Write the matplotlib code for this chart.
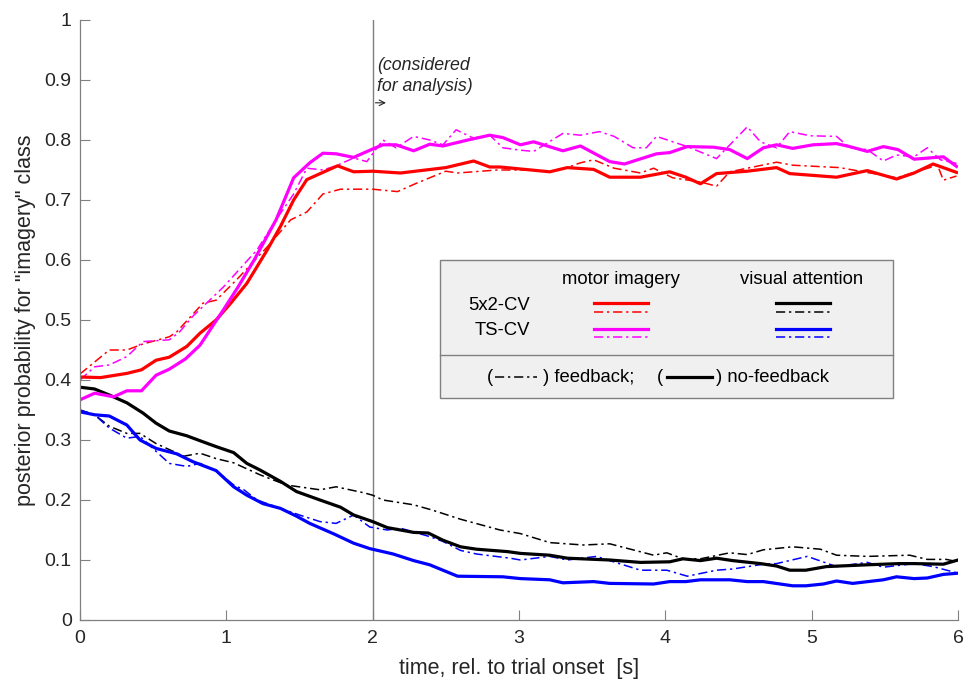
import matplotlib
matplotlib.use("Agg")
import matplotlib.pyplot as plt
from matplotlib.patches import Rectangle

plt.rcParams['font.family'] = ['Liberation Sans', 'DejaVu Sans']

# 5x2-CV, motor imagery, no-feedback (red solid)
red_nf_t = [0, 0.14, 0.32, 0.42, 0.52, 0.61, 0.73, 0.82, 0.93, 1.03, 1.14, 1.28, 1.37, 1.46, 1.55,
            1.76, 1.87, 2.0, 2.19, 2.5, 2.69, 2.8, 2.87, 3.21, 3.33, 3.51, 3.62, 3.83, 4.03, 4.14,
            4.24, 4.35, 4.56, 4.76, 4.85, 5.17, 5.38, 5.58, 5.70, 5.83, 5.99]
red_nf = [0.405, 0.404, 0.411, 0.417, 0.433, 0.438, 0.456, 0.478, 0.5, 0.528, 0.561, 0.617, 0.656,
          0.70, 0.734, 0.757, 0.747, 0.748, 0.745, 0.754, 0.765, 0.755, 0.755, 0.747, 0.754, 0.751,
          0.738, 0.738, 0.747, 0.738, 0.727, 0.744, 0.748, 0.754, 0.744, 0.738, 0.749, 0.735, 0.745,
          0.76, 0.746]

# 5x2-CV, motor imagery, feedback (red dash-dot)
red_fb_t = [0, 0.2, 0.32, 0.43, 0.61, 0.66, 0.84, 0.93, 1.07, 1.28, 1.44, 1.55, 1.66, 1.78, 2.0,
            2.17, 2.30, 2.5, 2.58, 2.85, 3.1, 3.21, 3.33, 3.42, 3.51, 3.65, 3.83, 3.92, 4.05, 4.24,
            4.35, 4.44, 4.76, 4.87, 5.19, 5.47, 5.58, 5.86, 5.9, 5.99]
red_fb = [0.41, 0.45, 0.45, 0.46, 0.472, 0.48, 0.528, 0.533, 0.567, 0.622, 0.667, 0.68, 0.71, 0.718,
          0.718, 0.714, 0.728, 0.748, 0.745, 0.75, 0.75, 0.747, 0.754, 0.762, 0.767, 0.753, 0.745,
          0.753, 0.737, 0.73, 0.723, 0.747, 0.763, 0.758, 0.754, 0.742, 0.737, 0.758, 0.733, 0.74]

# TS-CV, motor imagery, no-feedback (magenta solid)
mag_nf_t = [0, 0.1, 0.23, 0.32, 0.42, 0.52, 0.61, 0.72, 0.82, 0.98, 1.08, 1.19, 1.34, 1.46, 1.57,
            1.66, 1.75, 1.87, 2.0, 2.07, 2.16, 2.28, 2.39, 2.48, 2.65, 2.80, 2.89, 3.01, 3.10, 3.30,
            3.42, 3.62, 3.72, 3.94, 4.03, 4.15, 4.33, 4.44, 4.56, 4.67, 4.76, 4.87, 5.01, 5.17, 5.26,
            5.38, 5.49, 5.59, 5.70, 5.90, 5.99]
mag_nf = [0.367, 0.378, 0.372, 0.382, 0.382, 0.408, 0.418, 0.435, 0.458, 0.517, 0.555, 0.6, 0.667,
          0.737, 0.762, 0.778, 0.777, 0.771, 0.785, 0.792, 0.792, 0.782, 0.793, 0.79, 0.80, 0.808,
          0.804, 0.792, 0.797, 0.782, 0.79, 0.764, 0.76, 0.777, 0.779, 0.789, 0.788, 0.784, 0.769,
          0.787, 0.792, 0.786, 0.792, 0.794, 0.789, 0.781, 0.789, 0.784, 0.768, 0.772, 0.756]

# TS-CV, motor imagery, feedback (magenta dash-dot)
mag_fb_t = [0, 0.1, 0.2, 0.32, 0.43, 0.61, 0.68, 0.77, 0.98, 1.21, 1.34, 1.46, 1.55, 1.66, 1.75,
            1.87, 1.96, 2.07, 2.16, 2.28, 2.39, 2.48, 2.57, 2.69, 2.80, 2.89, 3.01, 3.10, 3.30, 3.42,
            3.55, 3.65, 3.78, 3.87, 3.94, 4.15, 4.35, 4.56, 4.65, 4.76, 4.85, 4.99, 5.17, 5.26, 5.38,
            5.49, 5.58, 5.70, 5.79, 5.88, 5.99]
mag_fb = [0.40, 0.422, 0.425, 0.439, 0.464, 0.467, 0.48, 0.506, 0.555, 0.617, 0.667, 0.71, 0.753,
          0.75, 0.757, 0.77, 0.764, 0.80, 0.787, 0.806, 0.80, 0.792, 0.817, 0.803, 0.808, 0.787,
          0.783, 0.781, 0.811, 0.808, 0.814, 0.806, 0.787, 0.787, 0.806, 0.789, 0.769, 0.822, 0.797,
          0.787, 0.814, 0.807, 0.806, 0.787, 0.784, 0.765, 0.775, 0.772, 0.787, 0.767, 0.761]

# 5x2-CV, visual attention, no-feedback (black solid)
blk_nf_t = [0, 0.1, 0.2, 0.32, 0.43, 0.52, 0.61, 0.73, 0.84, 0.93, 1.05, 1.14, 1.23, 1.37, 1.48,
            1.64, 1.78, 1.87, 2.0, 2.10, 2.28, 2.38, 2.48, 2.60, 2.71, 2.92, 3.01, 3.21, 3.33, 3.62,
            3.83, 4.03, 4.12, 4.24, 4.35, 4.46, 4.65, 4.76, 4.85, 4.96, 5.10, 5.38, 5.60, 5.70, 5.90,
            6.0]
blk_nf = [0.388, 0.385, 0.375, 0.362, 0.345, 0.328, 0.315, 0.307, 0.297, 0.289, 0.279, 0.261, 0.25,
          0.231, 0.214, 0.2, 0.188, 0.175, 0.164, 0.154, 0.146, 0.145, 0.133, 0.122, 0.118, 0.114,
          0.111, 0.108, 0.103, 0.10, 0.096, 0.097, 0.102, 0.099, 0.103, 0.099, 0.094, 0.090, 0.083,
          0.083, 0.089, 0.092, 0.094, 0.094, 0.093, 0.10]

# 5x2-CV, visual attention, feedback (black dash-dot)
blk_fb_t = [0, 0.1, 0.2, 0.32, 0.41, 0.52, 0.71, 0.82, 0.93, 1.05, 1.23, 1.41, 1.64, 1.75, 1.94,
            2.0, 2.07, 2.28, 2.41, 2.60, 2.87, 3.01, 3.21, 3.44, 3.62, 3.92, 4.01, 4.12, 4.24, 4.44,
            4.56, 4.67, 4.87, 5.06, 5.17, 5.38, 5.67, 5.79, 5.92, 6.0]
blk_fb = [0.35, 0.342, 0.323, 0.311, 0.311, 0.294, 0.273, 0.278, 0.269, 0.262, 0.242, 0.225, 0.217,
          0.222, 0.212, 0.208, 0.20, 0.192, 0.183, 0.168, 0.15, 0.144, 0.129, 0.125, 0.127, 0.108,
          0.112, 0.102, 0.102, 0.112, 0.109, 0.117, 0.122, 0.118, 0.108, 0.106, 0.108, 0.101, 0.101,
          0.097]

# TS-CV, visual attention, no-feedback (blue solid)
blu_nf_t = [0, 0.1, 0.2, 0.32, 0.41, 0.52, 0.66, 0.77, 0.93, 1.05, 1.14, 1.25, 1.37, 1.48, 1.57,
            1.73, 1.87, 1.98, 2.14, 2.28, 2.39, 2.48, 2.58, 2.89, 3.01, 3.21, 3.30, 3.51, 3.62, 3.92,
            4.03, 4.14, 4.24, 4.44, 4.56, 4.67, 4.87, 4.96, 5.08, 5.17, 5.28, 5.49, 5.58, 5.70, 5.79,
            5.90, 6.0]
blu_nf = [0.347, 0.342, 0.34, 0.325, 0.30, 0.286, 0.277, 0.264, 0.249, 0.222, 0.208, 0.194, 0.186,
          0.173, 0.161, 0.144, 0.128, 0.119, 0.11, 0.099, 0.092, 0.083, 0.073, 0.072, 0.069, 0.067,
          0.062, 0.064, 0.061, 0.06, 0.064, 0.064, 0.067, 0.067, 0.064, 0.064, 0.057, 0.057, 0.06,
          0.065, 0.061, 0.067, 0.072, 0.069, 0.07, 0.076, 0.078]

# TS-CV, visual attention, feedback (blue dash-dot)
blu_fb_t = [0, 0.1, 0.2, 0.32, 0.41, 0.52, 0.61, 0.73, 0.82, 0.93, 1.05, 1.12, 1.21, 1.37, 1.50,
            1.64, 1.75, 1.87, 1.98, 2.10, 2.19, 2.39, 2.48, 2.60, 2.71, 2.94, 3.01, 3.21, 3.33, 3.53,
            3.62, 3.83, 4.01, 4.15, 4.35, 4.46, 4.67, 4.76, 4.97, 5.17, 5.38, 5.49, 5.70, 5.83, 6.0]
blu_fb = [0.35, 0.342, 0.32, 0.303, 0.306, 0.281, 0.261, 0.256, 0.261, 0.249, 0.225, 0.217, 0.20,
          0.186, 0.175, 0.164, 0.161, 0.175, 0.155, 0.15, 0.153, 0.139, 0.131, 0.116, 0.11, 0.103,
          0.10, 0.106, 0.10, 0.106, 0.099, 0.083, 0.083, 0.073, 0.083, 0.085, 0.093, 0.094, 0.106,
          0.089, 0.096, 0.088, 0.094, 0.089, 0.078]

x_ticks = [0, 1, 2, 3, 4, 5, 6]
y_ticks = [0, 0.1, 0.2, 0.3, 0.4, 0.5, 0.6, 0.7, 0.8, 0.9, 1]
y_tick_labels = ['0', '0.1', '0.2', '0.3', '0.4', '0.5', '0.6', '0.7', '0.8', '0.9', '1']

RED, MAG, BLK, BLU = '#ff0000', '#ff00ff', '#000000', '#0000ff'
LW_NF, LW_FB = 2.3, 1.1
DD = (6, 2.5, 1.5, 2.5)
TXT = '#262626'
LEG_FS = 13.3

fig = plt.figure(figsize=(9.67, 6.82), dpi=100)
ax = fig.add_axes([80 / 967, 62 / 682, 878 / 967, 600 / 682])

# analysis window marker
ax.axvline(2, color='#7f7f7f', lw=1.0, zorder=1)

ax.plot(blk_fb_t, blk_fb, color=BLK, lw=LW_FB, dashes=DD)
ax.plot(blu_fb_t, blu_fb, color=BLU, lw=LW_FB, dashes=DD)
ax.plot(blk_nf_t, blk_nf, color=BLK, lw=LW_NF)
ax.plot(blu_nf_t, blu_nf, color=BLU, lw=LW_NF)
ax.plot(red_fb_t, red_fb, color=RED, lw=LW_FB, dashes=DD)
ax.plot(mag_fb_t, mag_fb, color=MAG, lw=LW_FB, dashes=DD)
ax.plot(red_nf_t, red_nf, color=RED, lw=LW_NF)
ax.plot(mag_nf_t, mag_nf, color=MAG, lw=LW_NF)

ax.set_xlim(0, 6)
ax.set_ylim(0, 1)
ax.set_xticks(x_ticks)
ax.set_yticks(y_ticks)
ax.set_yticklabels(y_tick_labels)
ax.tick_params(direction='in', length=7, width=0.8, color='#808080', labelsize=14,
               labelcolor=TXT)
ax.tick_params(axis='x', pad=7)
ax.tick_params(axis='y', pad=6)
for side in ['top', 'right']:
    ax.spines[side].set_visible(False)
for side in ['left', 'bottom']:
    ax.spines[side].set_color('#808080')
    ax.spines[side].set_linewidth(0.9)

ax.set_xlabel('time, rel. to trial onset  [s]', fontsize=15.5, color=TXT, labelpad=8)
ax.set_ylabel('posterior probability for "imagery" class', fontsize=15.5, color=TXT,
              labelpad=6)

# annotation next to the vertical line
ax.text(0.338, 0.938, '(considered\nfor analysis)', transform=ax.transAxes, fontsize=12.8,
        style='italic', color=TXT, va='top', ha='left', linespacing=1.3)
ax.annotate('', xy=(2.11, 0.862), xytext=(2.0, 0.862),
            arrowprops=dict(arrowstyle='->', color=TXT, lw=0.8))

# hand-made legend box
T = ax.transAxes
ax.add_patch(Rectangle((0.410, 0.370), 0.516, 0.230, transform=T, facecolor='#f0f0f0',
                       edgecolor='#808080', lw=1.0, zorder=5))
ax.plot([0.410, 0.926], [0.4417, 0.4417], transform=T, color='#808080', lw=1.0, zorder=6)

ax.text(0.616, 0.567, 'motor imagery', transform=T, fontsize=LEG_FS, ha='center', va='center',
        zorder=7)
ax.text(0.822, 0.567, 'visual attention', transform=T, fontsize=LEG_FS, ha='center',
        va='center', zorder=7)
ax.text(0.5125, 0.525, '5x2-CV', transform=T, fontsize=LEG_FS, ha='right', va='center',
        zorder=7)
ax.text(0.5125, 0.483, 'TS-CV', transform=T, fontsize=LEG_FS, ha='right', va='center', zorder=7)

mi_x = [0.585, 0.647]
va_x = [0.793, 0.854]
ax.plot(mi_x, [0.528, 0.528], transform=T, color=RED, lw=LW_NF, zorder=7)
ax.plot(mi_x, [0.514, 0.514], transform=T, color=RED, lw=LW_FB, dashes=DD, zorder=7)
ax.plot(mi_x, [0.485, 0.485], transform=T, color=MAG, lw=LW_NF, zorder=7)
ax.plot(mi_x, [0.471, 0.471], transform=T, color=MAG, lw=LW_FB, dashes=DD, zorder=7)
ax.plot(va_x, [0.528, 0.528], transform=T, color=BLK, lw=LW_NF, zorder=7)
ax.plot(va_x, [0.514, 0.514], transform=T, color=BLK, lw=LW_FB, dashes=DD, zorder=7)
ax.plot(va_x, [0.485, 0.485], transform=T, color=BLU, lw=LW_NF, zorder=7)
ax.plot(va_x, [0.471, 0.471], transform=T, color=BLU, lw=LW_FB, dashes=DD, zorder=7)

ax.text(0.4636, 0.405, '(', transform=T, fontsize=LEG_FS, ha='left', va='center', zorder=7)
ax.plot([0.473, 0.521], [0.405, 0.405], transform=T, color=BLK, lw=LW_FB, dashes=DD, zorder=7)
ax.text(0.527, 0.405, ') feedback;', transform=T, fontsize=LEG_FS, ha='left', va='center',
        zorder=7)
ax.text(0.657, 0.405, '(', transform=T, fontsize=LEG_FS, ha='left', va='center', zorder=7)
ax.plot([0.669, 0.720], [0.405, 0.405], transform=T, color=BLK, lw=LW_NF, zorder=7)
ax.text(0.7244, 0.405, ') no-feedback', transform=T, fontsize=LEG_FS, ha='left', va='center',
        zorder=7)

fig.savefig('out.png', dpi=100)
